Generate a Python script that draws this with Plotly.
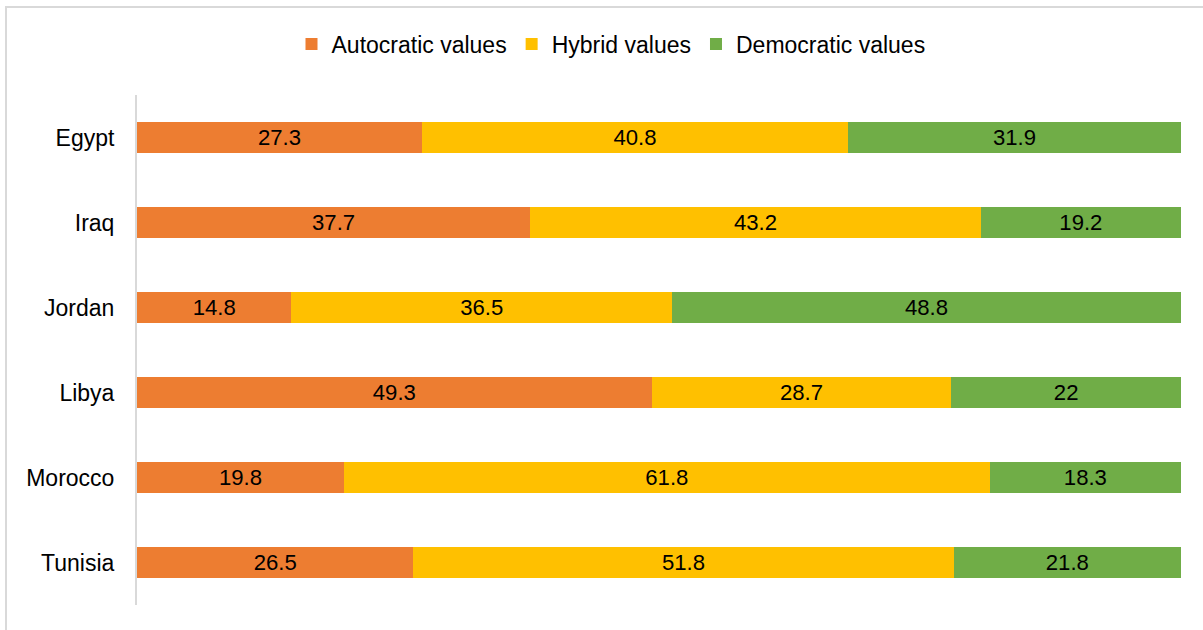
import plotly.graph_objects as go

countries = ["Egypt", "Iraq", "Jordan", "Libya", "Morocco", "Tunisia"]
autocratic = [27.3, 37.7, 14.8, 49.3, 19.8, 26.5]
hybrid = [40.8, 43.2, 36.5, 28.7, 61.8, 51.8]
democratic = [31.9, 19.2, 48.8, 22, 18.3, 21.8]

series = [
    ("Autocratic values", autocratic, "#ED7D31"),
    ("Hybrid values", hybrid, "#FFC000"),
    ("Democratic values", democratic, "#70AD47"),
]

FONT = "Liberation Sans, Arial, sans-serif"
FS = 23

fig = go.Figure()
for name, vals, color in series:
    fig.add_trace(go.Bar(
        y=countries, x=vals, name=name, orientation="h",
        marker=dict(color=color, line=dict(width=0)),
        text=[f"{v:g}" for v in vals], texttemplate="%{text}",
        textposition="inside", insidetextanchor="middle", textangle=0,
        textfont=dict(family=FONT, size=FS, color="black"),
        hoverinfo="skip",
    ))

W, H = 1203, 630
L, R, T, B = 137, 22, 95, 25
pw, ph = W - L - R, H - T - B

fig.update_layout(
    width=W, height=H,
    barmode="stack", barnorm="percent", bargap=0.635,
    margin=dict(l=L, r=R, t=T, b=B),
    paper_bgcolor="white", plot_bgcolor="white",
    font=dict(family=FONT, size=FS, color="black"),
    legend=dict(orientation="h", xref="container", yref="container",
                x=611 / W, xanchor="center", y=1 - 44 / H, yanchor="middle",
                font=dict(size=FS), traceorder="normal", itemwidth=30),
    xaxis=dict(visible=False, range=[0, 100], fixedrange=True),
    yaxis=dict(autorange="reversed", showline=True, linecolor="#d9d9d9", linewidth=2,
               showgrid=False, ticks="", ticklabelstandoff=16,
               tickfont=dict(size=FS), fixedrange=True),
    uniformtext=dict(mode=False),
    showlegend=True,
)

fig.add_shape(type="rect", xref="paper", yref="paper",
              x0=(6 - L) / pw, x1=1.2, y0=-0.3, y1=(H - B - 7) / ph,
              line=dict(color="#d9d9d9", width=2), fillcolor="rgba(0,0,0,0)", layer="below")

fig.write_html("out.html", config={"displayModeBar": False},
               post_script="document.body.style.margin='0';")
